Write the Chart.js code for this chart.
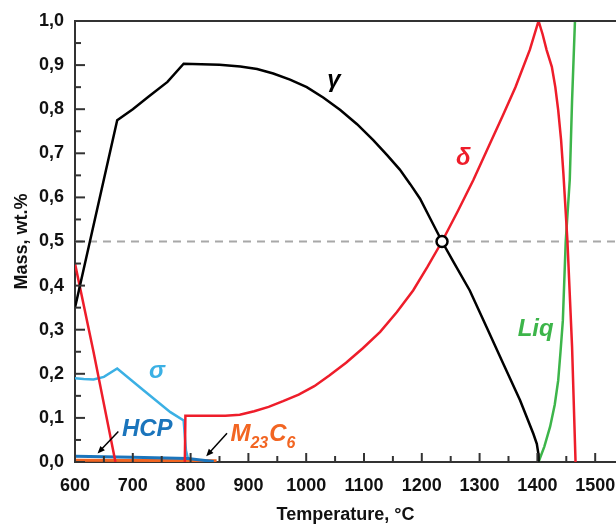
<!DOCTYPE html>
<html>
<head>
<meta charset="utf-8">
<script src="https://cdn.jsdelivr.net/npm/chart.js@4/dist/chart.umd.min.js"></script>
<style>
  html, body { margin: 0; padding: 0; background: #fff; }
</style>
</head>
<body>
<canvas id="phaseChart" width="616" height="526"></canvas>
<script>
// temperature (°C) / phase mass fraction
const gammaT = [600, 673, 700, 727, 760, 788, 850, 886, 915, 943, 972, 1001, 1030, 1059, 1088, 1116, 1140, 1162, 1180, 1197, 1215, 1235, 1255, 1283, 1312, 1341, 1370, 1393, 1399, 1401.5, 1402];
const gammaMass = [0.35, 0.775, 0.80, 0.828, 0.862, 0.903, 0.901, 0.897, 0.891, 0.881, 0.867, 0.850, 0.826, 0.798, 0.766, 0.730, 0.696, 0.663, 0.630, 0.597, 0.551, 0.50, 0.453, 0.389, 0.306, 0.223, 0.140, 0.064, 0.041, 0.02, 0.0];

const deltaT = [600, 632, 670, 730, 790, 791, 860, 885, 910, 935, 960, 987, 1014, 1040, 1069, 1098, 1128, 1157, 1185, 1210, 1235, 1262, 1289, 1318, 1340, 1362, 1387, 1402, 1409, 1416, 1425, 1431, 1436, 1441, 1445, 1452, 1456, 1460, 1466];
const deltaMass = [0.45, 0.25, 0.0, null, 0.0, 0.105, 0.105, 0.107, 0.115, 0.125, 0.138, 0.153, 0.172, 0.196, 0.225, 0.258, 0.295, 0.340, 0.389, 0.443, 0.50, 0.568, 0.639, 0.722, 0.785, 0.850, 0.935, 1.0, 0.97, 0.934, 0.896, 0.85, 0.798, 0.73, 0.654, 0.50, 0.38, 0.261, 0.0];

const liqT = [1402, 1412, 1422, 1430, 1436, 1440, 1444, 1449, 1456, 1460, 1465];
const liqMass = [0.0, 0.035, 0.08, 0.13, 0.185, 0.25, 0.32, 0.50, 0.64, 0.82, 1.0];

const sigmaT = [600, 615, 632, 650, 673, 719, 765, 788, 792, 797];
const sigmaMass = [0.19, 0.188, 0.187, 0.193, 0.212, 0.162, 0.113, 0.094, 0.026, 0.0];

const hcpT = [600, 700, 795, 840];
const hcpMass = [0.013, 0.011, 0.008, 0.001];

const m23c6T = [600, 845];
const m23c6Mass = [0.004, 0.003];

// gamma/delta crossing and the 0.5 guide line
const crossT = [1235];
const crossMass = [0.5];
const halfLineT = [600, 1536];
const halfLineMass = [0.5, 0.5];

// phase names, anchored in data units
const phaseLabels = [
  { text: "γ", t: 1048, m: 0.866, color: "#000000" },
  { text: "δ", t: 1272, m: 0.689, color: "#ee1d2a" },
  { text: "Liq", t: 1397, m: 0.30, color: "#3db54a" },
  { text: "σ", t: 742, m: 0.205, color: "#3bb0e4" },
  { text: "HCP", t: 725, m: 0.074, color: "#1b75bc" }
];
const arrows = [
  { from: [675, 0.069], to: [639, 0.0195] },
  { from: [863, 0.065], to: [827, 0.013] }
];

const FONT = '"Liberation Sans", Arial, sans-serif';
const toPoints = (xs, ys) => xs.map((x, i) => ({ x: x, y: ys[i] }));

function line(label, xs, ys, color, width) {
  return {
    label: label,
    data: toPoints(xs, ys),
    borderColor: color,
    backgroundColor: color,
    borderWidth: width,
    pointRadius: 0,
    tension: 0,
    spanGaps: false,
    fill: false
  };
}

const decorPlugin = {
  id: "decor",
  afterDraw(chart) {
    const { ctx, chartArea: a } = chart;
    const x = chart.scales.x;
    const y = chart.scales.y;
    ctx.save();

    // frame top
    ctx.strokeStyle = "#333";
    ctx.lineWidth = 2;
    ctx.beginPath();
    ctx.moveTo(a.left, a.top);
    ctx.lineTo(a.right, a.top);
    ctx.stroke();

    // inward tick marks
    x.ticks.forEach((t) => {
      const px = x.getPixelForValue(t.value);
      const len = Math.round(t.value) % 100 === 0 ? 9 : 6;
      ctx.beginPath();
      ctx.moveTo(px, a.bottom);
      ctx.lineTo(px, a.bottom - len);
      ctx.stroke();
    });
    y.ticks.forEach((t) => {
      const py = y.getPixelForValue(t.value);
      const len = Math.round(t.value * 100) % 10 === 0 ? 10 : 6;
      ctx.beginPath();
      ctx.moveTo(a.left, py);
      ctx.lineTo(a.left + len, py);
      ctx.stroke();
    });

    // phase labels
    ctx.textAlign = "center";
    ctx.textBaseline = "middle";
    ctx.font = "italic bold 24px " + FONT;
    phaseLabels.forEach((l) => {
      ctx.fillStyle = l.color;
      ctx.fillText(l.text, x.getPixelForValue(l.t), y.getPixelForValue(l.m));
    });

    // M23C6 with subscripts
    ctx.fillStyle = "#f26522";
    ctx.textAlign = "left";
    let px = x.getPixelForValue(869);
    const py = y.getPixelForValue(0.062);
    const big = "italic bold 24px " + FONT;
    const small = "italic bold 16px " + FONT;
    [["M", big, 0], ["23", small, 9], ["C", big, 0], ["6", small, 9]].forEach(([s, f, dy]) => {
      ctx.font = f;
      ctx.fillText(s, px, py + dy);
      px += ctx.measureText(s).width + (dy ? 1 : 0);
    });

    // arrows
    ctx.strokeStyle = "#000";
    ctx.fillStyle = "#000";
    ctx.lineWidth = 1.5;
    arrows.forEach((ar) => {
      const x1 = x.getPixelForValue(ar.from[0]), y1 = y.getPixelForValue(ar.from[1]);
      const x2 = x.getPixelForValue(ar.to[0]), y2 = y.getPixelForValue(ar.to[1]);
      const ang = Math.atan2(y2 - y1, x2 - x1);
      ctx.beginPath();
      ctx.moveTo(x1, y1);
      ctx.lineTo(x2 - 5 * Math.cos(ang), y2 - 5 * Math.sin(ang));
      ctx.stroke();
      ctx.beginPath();
      ctx.moveTo(x2, y2);
      ctx.lineTo(x2 - 8 * Math.cos(ang - 0.4), y2 - 8 * Math.sin(ang - 0.4));
      ctx.lineTo(x2 - 8 * Math.cos(ang + 0.4), y2 - 8 * Math.sin(ang + 0.4));
      ctx.closePath();
      ctx.fill();
    });
    ctx.restore();
  }
};

const ctx = document.getElementById("phaseChart").getContext("2d");

// hidden tick marks give the label gap, so no extra side padding is reserved
const hiddenTicks = (len) => ({
  display: true,
  drawOnChartArea: false,
  drawTicks: true,
  tickLength: len,
  tickColor: "rgba(0,0,0,0)"
});

new Chart(ctx, {
  type: "line",
  data: {
    datasets: [
      {
        label: "cross",
        data: toPoints(crossT, crossMass),
        showLine: false,
        pointRadius: 5.5,
        pointBorderWidth: 2.5,
        pointBorderColor: "#000",
        pointBackgroundColor: "#fff"
      },
      line("γ", gammaT, gammaMass, "#000000", 2.5),
      line("δ", deltaT, deltaMass, "#ee1d2a", 2.5),
      line("Liq", liqT, liqMass, "#3db54a", 2.5),
      line("HCP", hcpT, hcpMass, "#1b75bc", 3),
      line("M23C6", m23c6T, m23c6Mass, "#f26522", 3),
      line("σ", sigmaT, sigmaMass, "#3bb0e4", 2.5),
      Object.assign(line("0.5", halfLineT, halfLineMass, "#a8a8a8", 2), { borderDash: [8, 6] })
    ]
  },
  options: {
    responsive: false,
    animation: false,
    layout: { autoPadding: false, padding: { top: 21, right: 0, left: 0, bottom: 0 } },
    plugins: { legend: { display: false }, tooltip: { enabled: false } },
    scales: {
      x: {
        type: "linear",
        min: 600,
        max: 1536,
        afterFit: (s) => { s.height = 64; },
        border: { color: "#333", width: 2 },
        grid: hiddenTicks(13),
        ticks: {
          stepSize: 50,
          includeBounds: false,
          autoSkip: false,
          maxRotation: 0,
          padding: 0,
          color: "#111",
          font: { family: FONT, size: 18, weight: "bold" },
          callback: (v) => (Math.round(v) % 100 === 0 ? String(v) : "")
        },
        title: {
          display: true,
          text: "Temperature, °C",
          color: "#111",
          font: { family: FONT, size: 18, weight: "bold" },
          padding: { top: 0, bottom: 0 }
        }
      },
      y: {
        min: 0,
        max: 1,
        afterFit: (s) => { s.width = 75; },
        border: { color: "#333", width: 2 },
        grid: hiddenTicks(11),
        ticks: {
          stepSize: 0.05,
          autoSkip: false,
          padding: 0,
          color: "#111",
          font: { family: FONT, size: 18, weight: "bold" },
          callback: (v) => (Math.round(v * 100) % 10 === 0 ? v.toFixed(1).replace(".", ",") : "")
        },
        title: {
          display: true,
          text: "Mass, wt.%",
          color: "#111",
          font: { family: FONT, size: 18, weight: "bold" },
          padding: { top: 11, bottom: 0 }
        }
      }
    }
  },
  plugins: [decorPlugin]
});
</script>
</body>
</html>
